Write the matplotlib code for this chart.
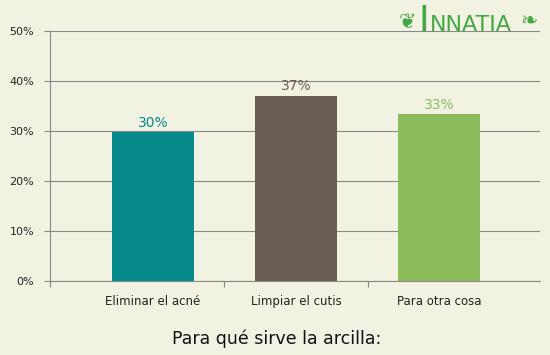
import matplotlib
matplotlib.use("Agg")
import matplotlib.pyplot as plt

categories = ["Eliminar el acné", "Limpiar el cutis", "Para otra cosa"]
values = [29.9, 37.1, 33.4]
colors = ["#068A8C", "#6B5F55", "#8BBB5A"]
yticks = [0, 10, 20, 30, 40, 50]
title = "Para qué sirve la arcilla:"

bg = "#F2F2E2"
grid_c = "#888888"

fig = plt.figure(figsize=(5.5, 3.55), dpi=100, facecolor=bg)
# axes run from x=50 to x=540 px, y=31 to y=281 px
ax = fig.add_axes([50 / 550, 74 / 355, 490 / 550, 250 / 355], facecolor=bg)

x = range(len(categories))
ax.bar(x, values, width=0.573, color=colors, zorder=3)
for xi, v, c in zip(x, values, colors):
    ax.text(xi, v + 0.4, f"{v:.0f}%", ha="center", va="bottom",
            fontsize=10, color=c, zorder=4)

ax.set_xlim(-0.72, 2.706)
ax.set_ylim(0, 50)
ax.set_yticks(yticks)
ax.set_yticklabels([f"{t}%" for t in yticks], fontsize=8, color="#222222")
ax.yaxis.grid(True, color=grid_c, linewidth=0.8, zorder=0)
ax.set_xticks(list(x))
ax.set_xticklabels(categories, fontsize=8.5, color="#222222")
ax.tick_params(axis="x", which="major", length=0, pad=10)
ax.set_xticks([-0.72, 0.5, 1.5], minor=True)
ax.tick_params(axis="x", which="minor", length=4.5, width=0.8, color=grid_c,
               direction="out")
ax.tick_params(axis="y", length=4.5, width=0.8, color=grid_c, pad=7)

for s in ["top", "right"]:
    ax.spines[s].set_visible(False)
for s in ["left", "bottom"]:
    ax.spines[s].set_color(grid_c)
    ax.spines[s].set_linewidth(0.8)

fig.text(0.503, 0.045, title, ha="center", va="center", fontsize=12.5,
         color="#111111")

# logo
logo_c = "#45A845"
fig.text(419 / 550, 1 - 31 / 355, "I", ha="left", va="baseline",
         fontsize=26, color=logo_c, family="DejaVu Sans")
fig.text(430 / 550, 1 - 31 / 355, "NNATIA", ha="left", va="baseline",
         fontsize=16, color=logo_c, family="DejaVu Sans")
fig.text(407 / 550, 1 - 22 / 355, "❦", ha="center", va="center",
         fontsize=15, color=logo_c, family="DejaVu Sans")
fig.text(529 / 550, 1 - 22 / 355, "❧", ha="center", va="center",
         fontsize=15, color=logo_c, family="DejaVu Sans")

fig.savefig("out.png", dpi=100, facecolor=bg)
